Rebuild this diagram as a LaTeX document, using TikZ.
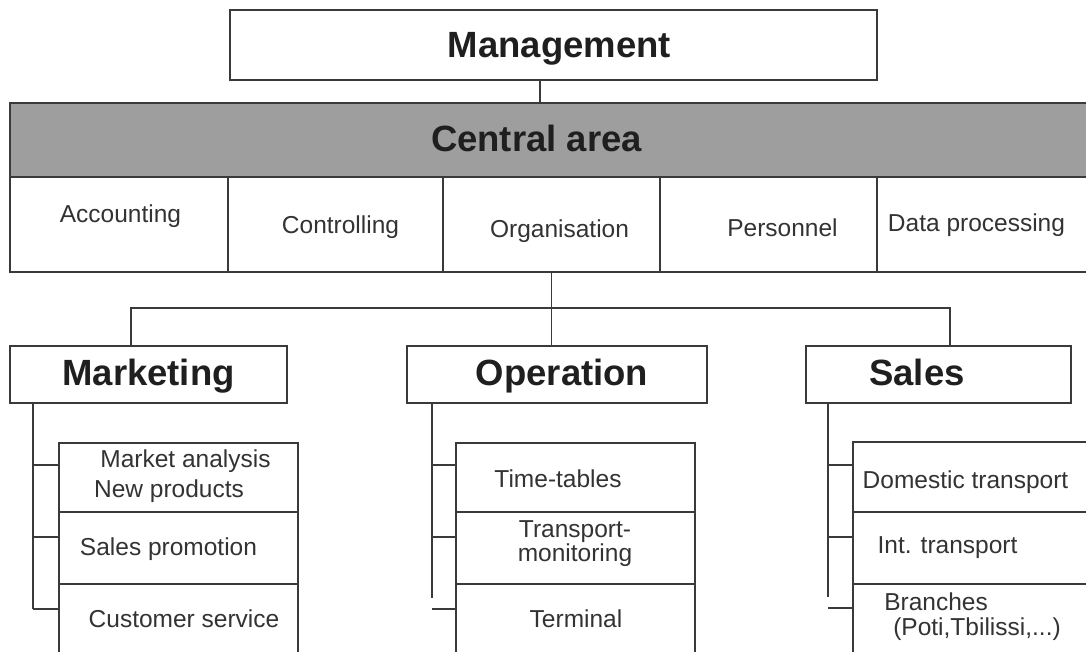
\documentclass[tikz,border=0pt]{standalone}
\usepackage{fontspec}
\setmainfont{Liberation Sans}
\definecolor{ink}{HTML}{333333}
\definecolor{line}{HTML}{3A3A3A}
\definecolor{band}{HTML}{9E9E9E}
\begin{document}
\begin{tikzpicture}[x=1pt,y=-1pt,
  box/.style={draw=line, line width=1.7pt, rectangle, inner sep=0pt, fill=white},
  conn/.style={draw=line, line width=1.6pt},
  lab/.style={inner sep=0pt, anchor=base, text=ink, font=\fontsize{24.5}{26}\selectfont},
  head/.style={inner sep=0pt, anchor=base, text=black!88, font=\fontsize{36.5}{38}\selectfont\bfseries}]
\useasboundingbox (0,0) rectangle (1086,651);
\clip (0,0) rectangle (1086,651);
\fill[white] (0,0) rectangle (1086,651);
% boxes
\node[box, minimum width=647pt, minimum height=70pt] (mgmt) at (553.5,45) {};
\node[box, fill=band, minimum width=1090pt, minimum height=74pt] (central) at (555,140) {};
\node[box, minimum width=218pt, minimum height=95pt] (acc) at (119,224.5) {};
\node[box, minimum width=215pt, minimum height=95pt] (ctrl) at (335.5,224.5) {};
\node[box, minimum width=217pt, minimum height=95pt] (org) at (551.5,224.5) {};
\node[box, minimum width=217pt, minimum height=95pt] (pers) at (768.5,224.5) {};
\node[box, minimum width=223pt, minimum height=95pt] (dp) at (988.5,224.5) {};
\node[box, minimum width=277pt, minimum height=57pt] (mkt) at (148.5,374.5) {};
\node[box, minimum width=300pt, minimum height=57pt] (op) at (557,374.5) {};
\node[box, minimum width=265pt, minimum height=57pt] (sales) at (938.5,374.5) {};
\node[box, minimum width=239pt, minimum height=69pt] (m1) at (178.5,477.5) {};
\node[box, minimum width=239pt, minimum height=72pt] (m2) at (178.5,548) {};
\node[box, minimum width=239pt, minimum height=96pt] (m3) at (178.5,632) {};
\node[box, minimum width=239pt, minimum height=69pt] (o1) at (575.5,477.5) {};
\node[box, minimum width=239pt, minimum height=72pt] (o2) at (575.5,548) {};
\node[box, minimum width=239pt, minimum height=96pt] (o3) at (575.5,632) {};
\node[box, minimum width=247pt, minimum height=70pt] (s1) at (976.5,477) {};
\node[box, minimum width=247pt, minimum height=72pt] (s2) at (976.5,548) {};
\node[box, minimum width=247pt, minimum height=96pt] (s3) at (976.5,632) {};
% labels
\node[head] (tmgmt) at (559.5,57) {Management};
\node[head] (tcentral) at (536.5,151) {Central area};
\node[lab] (tacc) at (120.5,222) {Accounting};
\node[lab] (tctrl) at (340.5,233) {Controlling};
\node[lab] (torg) at (559.5,237) {Organisation};
\node[lab] (tpers) at (782.5,236) {Personnel};
\node[lab] (tdp) at (976.5,231) {Data processing};
\node[head] (tmkt) at (148.5,385) {Marketing};
\node[head] (top) at (562,385) {Operation};
\node[head] (tsales) at (917,385) {Sales};
\node[lab] (tm1a) at (185.5,467) {Market analysis};
\node[lab] (tm1b) at (169,497) {New products};
\node[lab] (tm2) at (168.5,555) {Sales promotion};
\node[lab] (tm3) at (184,627) {Customer service};
\node[lab] (to1) at (558,487) {Time-tables};
\node[lab, anchor=center, align=center, font=\fontsize{24.5}{19}\selectfont] (to2) at (575,544) {Transport-\\monitoring};
\node[lab] (to3) at (576,627) {Terminal};
\node[lab] (ts1) at (965.5,488) {Domestic transport};
\node[lab] (ts2) at (947.5,553) {Int. transport};
\node[lab] (ts3a) at (936,610) {Branches};
\node[lab] (ts3b) at (977,635) {(Poti,Tbilissi,...)};
% connectors
\coordinate (mj) at (540,0);
\coordinate (busL) at (131,308);
\coordinate (busR) at (950,308);
\draw[conn] (mgmt.south -| mj) -- (central.north -| mj);
\draw[conn] (org.south) -- (org.south |- busL);
\draw[conn] (busL |- mkt.north) -- (busL) -- (busR) -- (busR |- sales.north);
\draw[conn] (org.south |- busL) -- (org.south |- op.north);
% marketing tree
\coordinate (mv1) at (33,465);
\coordinate (mv2) at (33,537);
\coordinate (mv3) at (33,609);
\draw[conn] (mkt.south -| mv1) -- (mv3);
\draw[conn] (mv1) -- (mv1 -| m1.west);
\draw[conn] (mv2) -- (mv2 -| m2.west);
\draw[conn] (mv3) -- (mv3 -| m3.west);
% operation tree
\coordinate (ov1) at (432,465);
\coordinate (ov2) at (432,537);
\coordinate (ov3) at (432,609);
\coordinate (oend) at (432,598);
\draw[conn] (op.south -| ov1) -- (oend);
\draw[conn] (ov1) -- (ov1 -| o1.west);
\draw[conn] (ov2) -- (ov2 -| o2.west);
\draw[conn] (ov3) -- (ov3 -| o3.west);
% sales tree
\coordinate (sv1) at (828,465);
\coordinate (sv2) at (828,537);
\coordinate (sv3) at (828,608);
\coordinate (send) at (828,597);
\draw[conn] (sales.south -| sv1) -- (send);
\draw[conn] (sv1) -- (sv1 -| s1.west);
\draw[conn] (sv2) -- (sv2 -| s2.west);
\draw[conn] (sv3) -- (sv3 -| s3.west);
\end{tikzpicture}
\end{document}
